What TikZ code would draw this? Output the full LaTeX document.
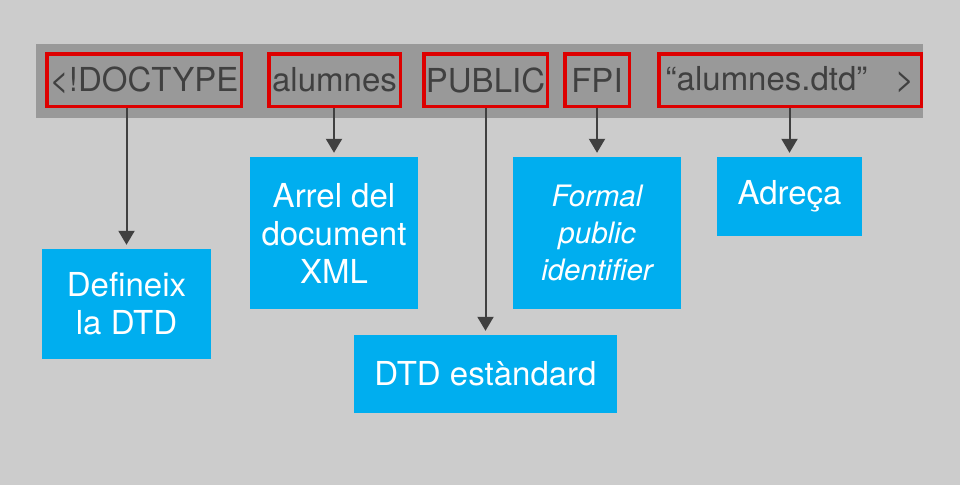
\documentclass[tikz,border=0pt]{standalone}
\usepackage{fontspec}
\setmainfont{TeX Gyre Heros}
\usetikzlibrary{arrows.meta,positioning,calc}

\definecolor{fons}{HTML}{CCCCCC}
\definecolor{barra}{HTML}{999999}
\definecolor{vermell}{HTML}{DD0000}
\definecolor{blau}{HTML}{00AEEF}
\definecolor{fosc}{HTML}{404040}

\begin{document}
\begin{tikzpicture}[x=1pt, y=-1pt,
  tag/.style={draw=vermell, line width=3.5pt, inner sep=0pt, text=fosc,
    font=\fontsize{33}{38}\selectfont},
  info/.style={fill=blau, inner sep=0pt, text=white, align=center,
    font=\fontsize{33}{38}\selectfont},
  fletxa/.style={draw=fosc, line width=2pt, -{Triangle[width=16pt,length=14pt]}, shorten >=4pt}]
% fons
\fill[fons] (0,0) rectangle (960,485);
\useasboundingbox (0,0) rectangle (960,485);
\fill[barra] (36,44) rectangle (923,118);

% etiquetes
\node[tag, minimum width=194.5pt, minimum height=52.5pt] (doctype) at (144,80) {<!DOCTYPE};
\node[tag, minimum width=131.5pt, minimum height=52.5pt] (alumnes) at (334.5,80) {alumnes};
\node[tag, minimum width=123.5pt, minimum height=52.5pt] (public) at (485.5,80) {PUBLIC};
\node[tag, minimum width=64.5pt, minimum height=52.5pt] (fpi) at (597,80) {FPI};
\node[tag, minimum width=262.5pt, minimum height=52.5pt] (dtd) at (790,80) {“alumnes.dtd”\ \ \ >};

% explicacions
\node[info, minimum width=169pt, minimum height=110pt] (defineix) at (126.5,304) {Defineix\\la DTD};
\node[info, minimum width=168pt, minimum height=152pt] (arrel) at (334,233) {Arrel del\\document\\XML};
\node[info, minimum width=263pt, minimum height=78pt] (estandard) at (485.5,374) {DTD estàndard};
\node[info, minimum width=168pt, minimum height=152pt, font=\fontsize{29.5}{37}\selectfont\itshape] (formal) at (597,233) {Formal\\public\\identifier};
\node[info, minimum width=145pt, minimum height=79pt] (adreca) at (789.5,196.5) {Adreça};

% connexions
\draw[fletxa] (defineix.north |- doctype.south) -- (defineix.north);
\draw[fletxa] (arrel.north |- alumnes.south) -- (arrel.north);
\draw[fletxa] (estandard.north |- public.south) -- (estandard.north);
\draw[fletxa] (formal.north |- fpi.south) -- (formal.north);
\draw[fletxa] (adreca.north |- dtd.south) -- (adreca.north);
\end{tikzpicture}
\end{document}
